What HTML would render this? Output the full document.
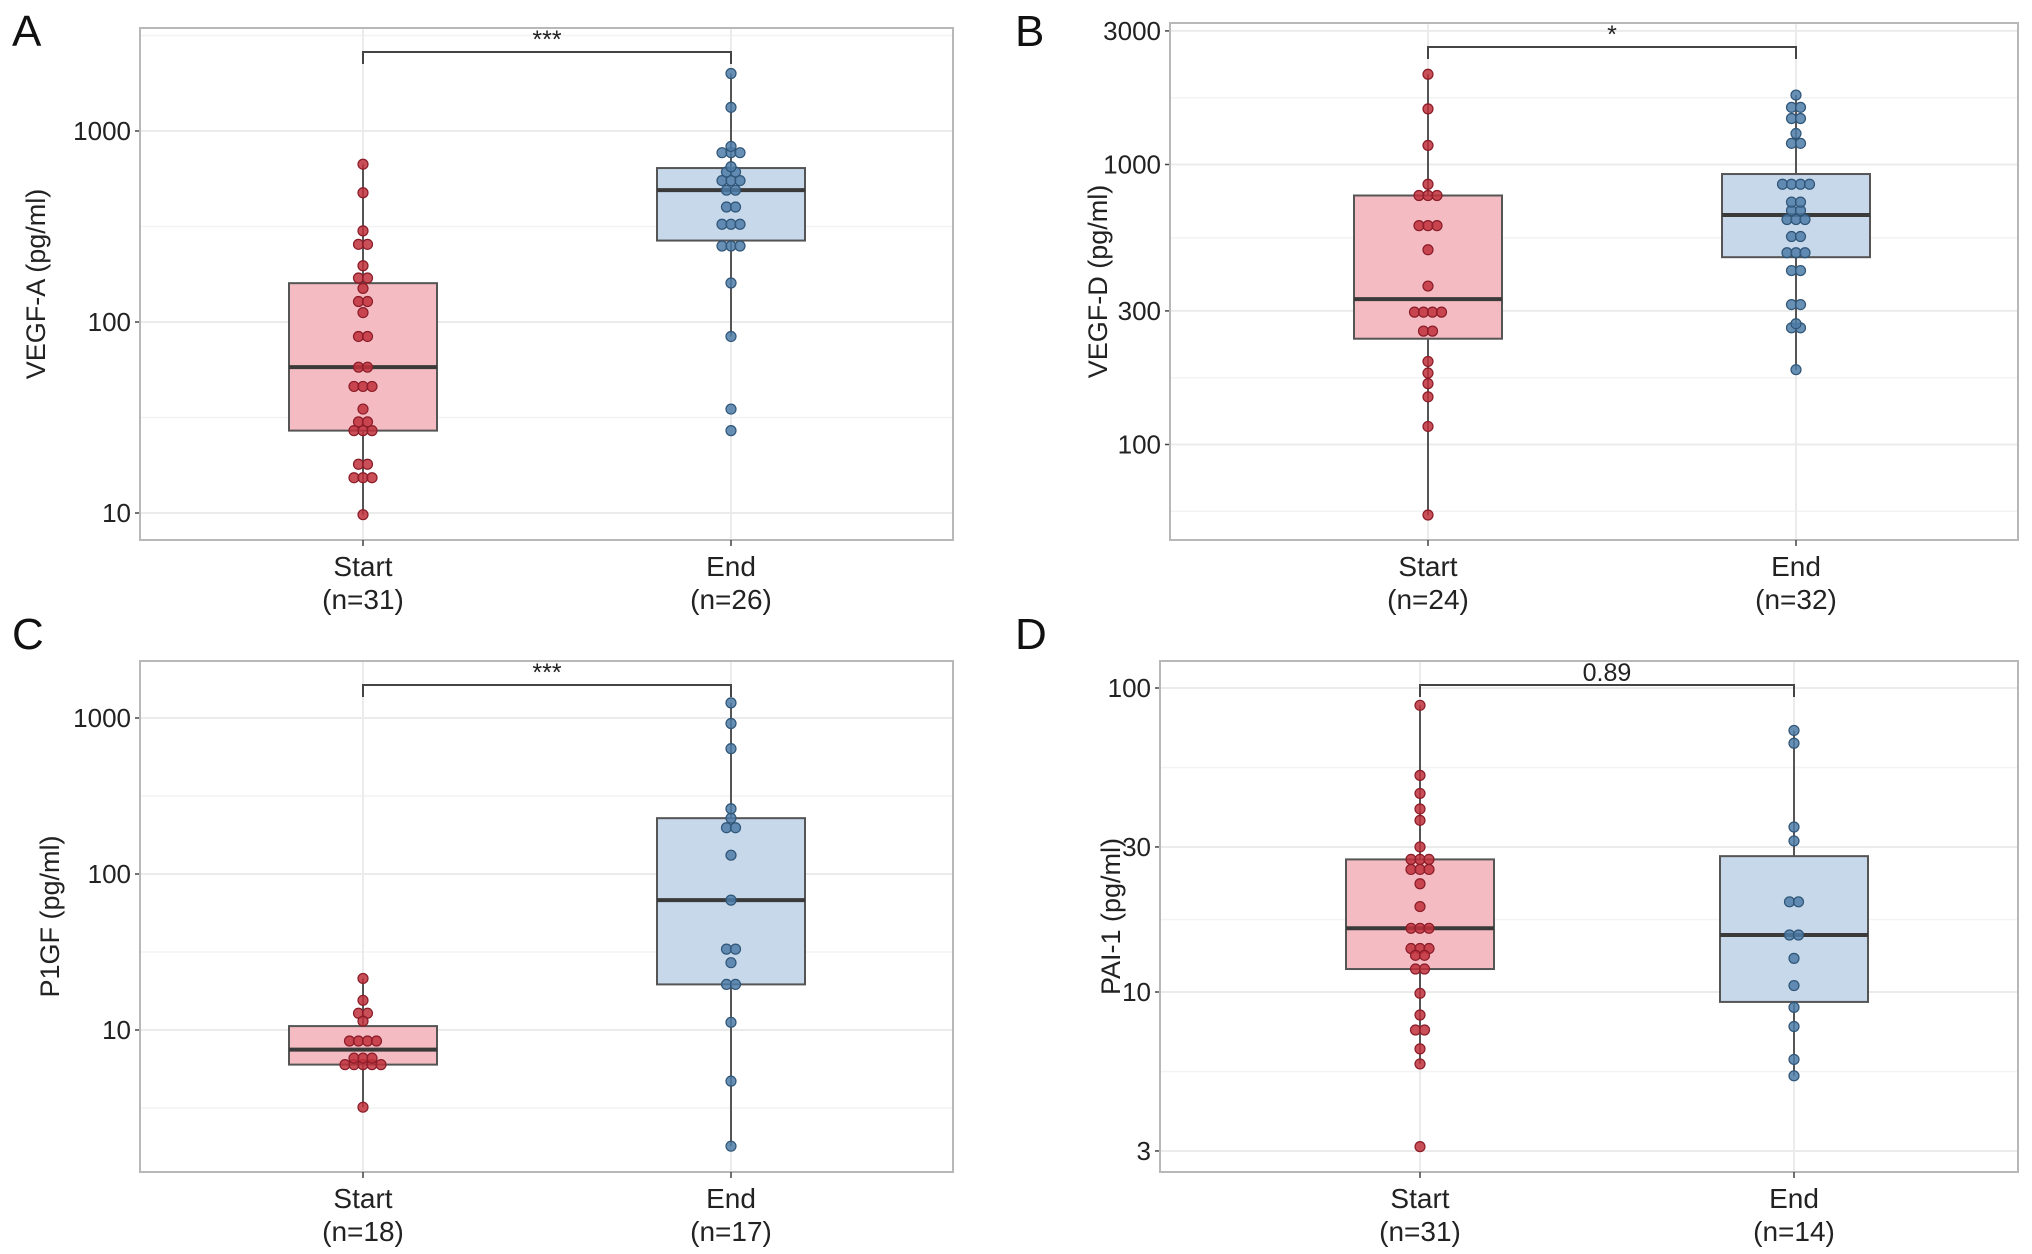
<!DOCTYPE html>
<html><head><meta charset="utf-8">
<style>
html,body{margin:0;padding:0;background:#fff;}
svg{display:block;font-family:"Liberation Sans",Arial,sans-serif;}
</style></head>
<body>
<svg id="fig" width="2032" height="1254" viewBox="0 0 2032 1254"></svg>
<script>
// ---- data (pg/ml) ----
const categories = ["Start", "End"];
const aStart = [670,475,300,255,255,197,170,170,150,128,128,112,84,84,58,58,46,46,46,35,30,30,27,27,27,18,18,15.3,15.3,15.3,9.8];
const aEnd = [2000,1330,830,770,770,770,650,610,610,550,550,550,490,490,400,400,325,325,325,250,250,250,160,84,35,27];
const bStart = [2100,1580,1170,850,775,775,775,605,605,605,496,368,297,297,297,297,254,254,198,180,165,148,116,56];
const bEnd = [1770,1600,1600,1460,1460,1290,1190,1190,850,850,850,850,734,734,685,685,636,636,636,553,553,484,484,484,418,418,316,316,270,261,261,185];
const cStart = [21.4,15.5,12.8,12.8,11.4,8.5,8.5,8.5,8.5,6.6,6.6,6.6,6.0,6.0,6.0,6.0,6.0,3.2];
const cEnd = [1250,922,636,262,228,198,198,132,68,33,33,27,19.6,19.6,11.2,4.7,1.8];
const dStart = [87.7,51.6,45,40,36.7,30,27.3,27.3,27.3,25.3,25.3,25.3,22.7,19.1,16.2,16.2,16.2,13.9,13.9,13.9,13.2,13.2,11.9,11.9,9.9,8.4,7.5,7.5,6.5,5.8,3.1];
const dEnd = [72.5,65.8,34.9,31.4,19.8,19.8,15.4,15.4,12.9,10.5,8.9,7.7,6.0,5.3];
const aTicks = [10,100,1000];
const bTicks = [100,300,1000,3000];
const cTicks = [10,100,1000];
const dTicks = [3,10,30,100];
const nLabels = [["31","26"],["24","32"],["18","17"],["31","14"]];
const sigLabels = ["***","*","***","0.89"];
const yTitles = ["VEGF-A (pg/ml)","VEGF-D (pg/ml)","P1GF (pg/ml)","PAI-1 (pg/ml)"];
const letters = ["A","B","C","D"];

// ---- layout ----
const panels = [
 {x0:140,x1:953,y0:28,y1:540,cx:[363,731],refV:10,refY:513,dec:191,ticks:aTicks,data:[aStart,aEnd],lx:30,ly:30,tx:45,bw:148},
 {x0:1170,x1:2018,y0:23,y1:540,cx:[1428,1796],refV:100,refY:444.5,dec:280,ticks:bTicks,data:[bStart,bEnd],lx:1033,ly:30,tx:1107,bw:148},
 {x0:140,x1:953,y0:661,y1:1172,cx:[363,731],refV:10,refY:1030,dec:156,ticks:cTicks,data:[cStart,cEnd],lx:30,ly:633,tx:59,bw:148},
 {x0:1160,x1:2018,y0:661,y1:1172,cx:[1420,1794],refV:10,refY:992,dec:304,ticks:dTicks,data:[dStart,dEnd],lx:1033,ly:633,tx:1120,bw:148}
];
const NS="http://www.w3.org/2000/svg";
const svg=document.getElementById('fig');
function mk(tag,attrs,parent){const e=document.createElementNS(NS,tag);for(const k in attrs)e.setAttribute(k,attrs[k]);(parent||svg).appendChild(e);return e;}
function quant(s,p){const h=(s.length-1)*p,l=Math.floor(h),u=Math.ceil(h);return s[l]+(s[u]-s[l])*(h-l);}
const fills=["#f4bcc2","#c6d8ea"], dotF=["#c0303c","#4d7ca8"], dotS=["#8a1c28","#2f5577"];

panels.forEach((P,pi)=>{
  const g=mk('g',{});
  
  
  const Y=v=>P.refY-(Math.log10(v)-Math.log10(P.refV))*P.dec;
  for(let i=0;i<P.ticks.length-1;i++){
    const ym=(Y(P.ticks[i])+Y(P.ticks[i+1]))/2;
    const l=mk('line',{x1:P.x0,x2:P.x1,y1:ym,y2:ym,stroke:"#f3f3f3","stroke-width":1.5},g);
    
  }
  { const yb=Y(P.ticks[0])+(Y(P.ticks[0])-Y(P.ticks[1]))/2; if(yb<P.y1){const l=mk('line',{x1:P.x0,x2:P.x1,y1:yb,y2:yb,stroke:"#f3f3f3","stroke-width":1.5},g);}
    const n=P.ticks.length; const yt=Y(P.ticks[n-1])-(Y(P.ticks[n-2])-Y(P.ticks[n-1]))/2; if(yt>P.y0){const l=mk('line',{x1:P.x0,x2:P.x1,y1:yt,y2:yt,stroke:"#f3f3f3","stroke-width":1.5},g);}}
  P.ticks.forEach(t=>{
    const y=Y(t);
    const l=mk('line',{x1:P.x0,x2:P.x1,y1:y,y2:y,stroke:"#ebebeb","stroke-width":2},g);
    
    const tm=mk('line',{x1:P.x0-5,x2:P.x0,y1:y,y2:y,stroke:"#444","stroke-width":1.5},g);
    
    const tx=mk('text',{x:P.x0-9,y:y+9,"text-anchor":"end","font-size":26,fill:"#222"},g);
    
    tx.textContent=t;
  });
  P.cx.forEach((cx,ci)=>{
    const l=mk('line',{x1:cx,x2:cx,y1:P.y0,y2:P.y1,stroke:"#ebebeb","stroke-width":2},g);
    
  });
  const br=mk('rect',{x:P.x0,y:P.y0,width:P.x1-P.x0,height:P.y1-P.y0,fill:"none",stroke:"#b8b8b8","stroke-width":2},g);
  
  P.data.forEach((arr,ci)=>{
    const cx=P.cx[ci];
    const s=arr.map(v=>Math.log10(v)).sort((a,b)=>a-b);
    const q1=quant(s,0.25),q3=quant(s,0.75),md=quant(s,0.5),iqr=q3-q1;
    const lo=Math.min(...s.filter(v=>v>=q1-1.5*iqr)),hi=Math.max(...s.filter(v=>v<=q3+1.5*iqr));
    const Yl=l=>Y(Math.pow(10,l));
    const w=mk('line',{x1:cx,x2:cx,y1:Yl(hi),y2:Yl(lo),stroke:"#555","stroke-width":2},g);
    
    const r=mk('rect',{x:cx-P.bw/2,y:Yl(q3),width:P.bw,height:Yl(q1)-Yl(q3),fill:fills[ci],stroke:"#555","stroke-width":2},g);
    
    const m=mk('line',{x1:cx-P.bw/2,x2:cx+P.bw/2,y1:Yl(md),y2:Yl(md),stroke:"#3a3a3a","stroke-width":4},g);
    
    const groups={};arr.forEach(v=>{groups[v]=(groups[v]||0)+1;});
    Object.keys(groups).forEach(k=>{
      const n=groups[k];
      for(let j=0;j<n;j++){
        const dx=(j-(n-1)/2)*9;
        const c=mk('circle',{cx:cx+dx,cy:Y(+k),r:5,fill:dotF[ci],"fill-opacity":0.85,stroke:dotS[ci],"stroke-width":1.2},g);
        
        
      }
    });
    const xt=mk('line',{x1:cx,x2:cx,y1:P.y1,y2:P.y1+6,stroke:"#444","stroke-width":1.5},g);
    
    const t1=mk('text',{x:cx,y:P.y1+36,"text-anchor":"middle","font-size":28,fill:"#222"},g);
    
    t1.textContent=categories[ci];
    const t2=mk('text',{x:cx,y:P.y1+69,"text-anchor":"middle","font-size":28,fill:"#222"},g);
    
    t2.textContent="(n="+nLabels[pi][ci]+")";
  });
  const by=P.y0+24, x1=P.cx[0], x2=P.cx[1];
  const bk=mk('path',{d:`M${x1},${by+12} V${by} H${x2} V${by+12}`,fill:"none",stroke:"#444","stroke-width":2},g);
  
  const st=mk('text',{x:(x1+x2)/2,y:by-4,"text-anchor":"middle","font-size":25,fill:"#222"},g);
  
  st.textContent=sigLabels[pi];
  const cy=(P.y0+P.y1)/2;
  const yt=mk('text',{x:P.tx,y:cy,"text-anchor":"middle","font-size":27,fill:"#222",transform:`rotate(-90 ${P.tx} ${cy})`},g);
  
  yt.textContent=yTitles[pi];
  const lt=mk('text',{x:P.lx-18,y:P.ly+16,"font-size":44,fill:"#111"},g);
  
  lt.textContent=letters[pi];
});
</script>
</body></html>
